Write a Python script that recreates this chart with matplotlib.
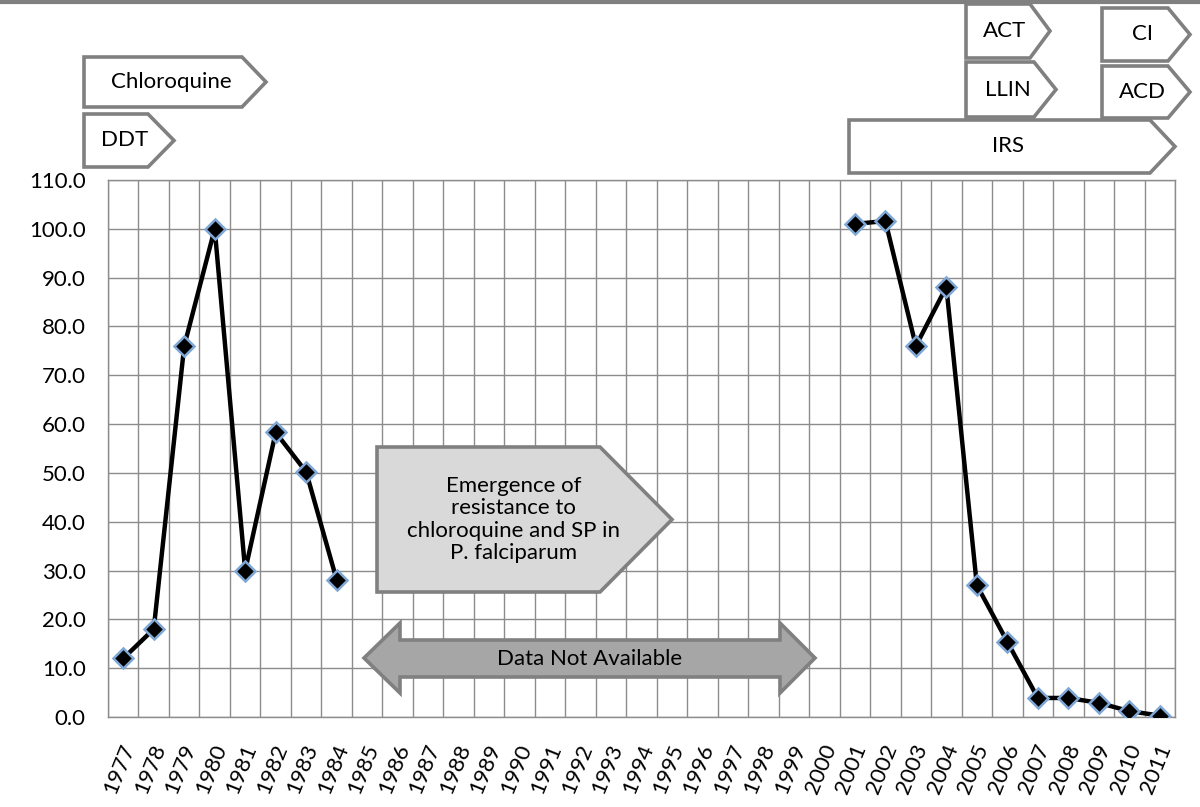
# Malaria incidence chart with intervention timeline
import numpy as np
import matplotlib.pyplot as plt
from matplotlib.patches import Polygon
from matplotlib.transforms import ScaledTranslation

plt.rcParams['font.family'] = ['Lato', 'DejaVu Sans']

years = list(range(1977, 2012))
rate_early = {1977: 12.0, 1978: 18.0, 1979: 76.0, 1980: 100.0, 1981: 30.0,
              1982: 58.3, 1983: 50.2, 1984: 28.1}
rate_late = {2001: 101.0, 2002: 101.6, 2003: 76.0, 2004: 88.1, 2005: 27.0,
             2006: 15.4, 2007: 3.9, 2008: 3.9, 2009: 2.9, 2010: 1.2, 2011: 0.3}
y_ticks = np.arange(0, 111, 10)

W, H = 1200, 807
fig = plt.figure(figsize=(W / 100, H / 100), dpi=100)
ax = fig.add_axes([108 / W, 1 - 717 / H, (1175 - 108) / W, (717 - 180) / H])

pos = {y: i for i, y in enumerate(years)}
for seg in (rate_early, rate_late):
    xs = [pos[y] for y in seg]
    ax.plot(xs, list(seg.values()), color='black', lw=3.2, zorder=3,
            marker='D', ms=10, mfc='black', mec='#7fa7d6', mew=1.8)

ax.set_xlim(-0.5, len(years) - 0.5)
ax.set_ylim(0, 110)
ax.set_yticks(y_ticks)
ax.set_yticklabels(['%.1f' % v for v in y_ticks], fontsize=16)
ax.set_xticks(range(len(years)))
ax.set_xticks(np.arange(-0.5, len(years)), minor=True)
ax.tick_params(axis='both', which='both', length=0)
ax.tick_params(axis='x', pad=20)
ax.tick_params(axis='y', pad=16)
ax.set_xticklabels([str(y) for y in years], rotation=68, fontsize=16,
                   ha='right', va='center', rotation_mode='anchor')
shift = ScaledTranslation(6 / 100, 0, fig.dpi_scale_trans)
for lab in ax.get_xticklabels():
    lab.set_transform(lab.get_transform() + shift)
ax.grid(True, axis='y', color='#8c8c8c', lw=1)
ax.grid(True, axis='x', which='minor', color='#8c8c8c', lw=1)
ax.grid(False, axis='x', which='major')
for s in ax.spines.values():
    s.set_color('#8c8c8c')
    s.set_linewidth(1)
ax.set_axisbelow(True)


def px(x, y):
    return (x / W, 1 - y / H)


def pentagon(x0, x1, tip, top, bot, label, fc='white', fs=16, zorder=5):
    mid = (top + bot) / 2
    pts = [px(x0, top), px(x1, top), px(tip, mid), px(x1, bot), px(x0, bot)]
    fig.patches.append(Polygon(pts, closed=True, transform=fig.transFigure,
                               fc=fc, ec='#808080', lw=2.6, zorder=zorder))
    cx = (x0 + x1) / 2 + 0.35 * (tip - x1)
    fig.text(cx / W, 1 - mid / H, label, ha='center', va='center',
             fontsize=fs, zorder=zorder + 1, linespacing=1.15)


# top border line
fig.add_artist(plt.Line2D([0, 1], [1 - 1.5 / H, 1 - 1.5 / H],
                          transform=fig.transFigure, color='#808080', lw=3))

pentagon(84, 242, 266, 57, 107, 'Chloroquine')
pentagon(84, 148, 174, 114, 167, 'DDT')
pentagon(966, 1030, 1050, 4, 58, 'ACT')
pentagon(966, 1034, 1056, 62, 117, 'LLIN')
pentagon(1102, 1168, 1190, 8, 61, 'CI')
pentagon(1102, 1168, 1190, 66, 118, 'ACD')
pentagon(849, 1150, 1175, 120, 173, 'IRS')
pentagon(377, 600, 672, 447, 592,
         'Emergence of\nresistance to\nchloroquine and SP in\nP. falciparum',
         fc='#d9d9d9')

# double-headed arrow
arrow = [px(364, 658), px(400, 623), px(400, 640), px(780, 640), px(780, 623),
         px(815, 658), px(780, 693), px(780, 677), px(400, 677), px(400, 693)]
fig.patches.append(Polygon(arrow, closed=True, transform=fig.transFigure,
                           fc='#a6a6a6', ec='#808080', lw=2.6, zorder=5))
fig.text(590 / W, 1 - 659 / H, 'Data Not Available', ha='center', va='center',
         fontsize=16, zorder=6)

fig.savefig('out.png', dpi=100)
